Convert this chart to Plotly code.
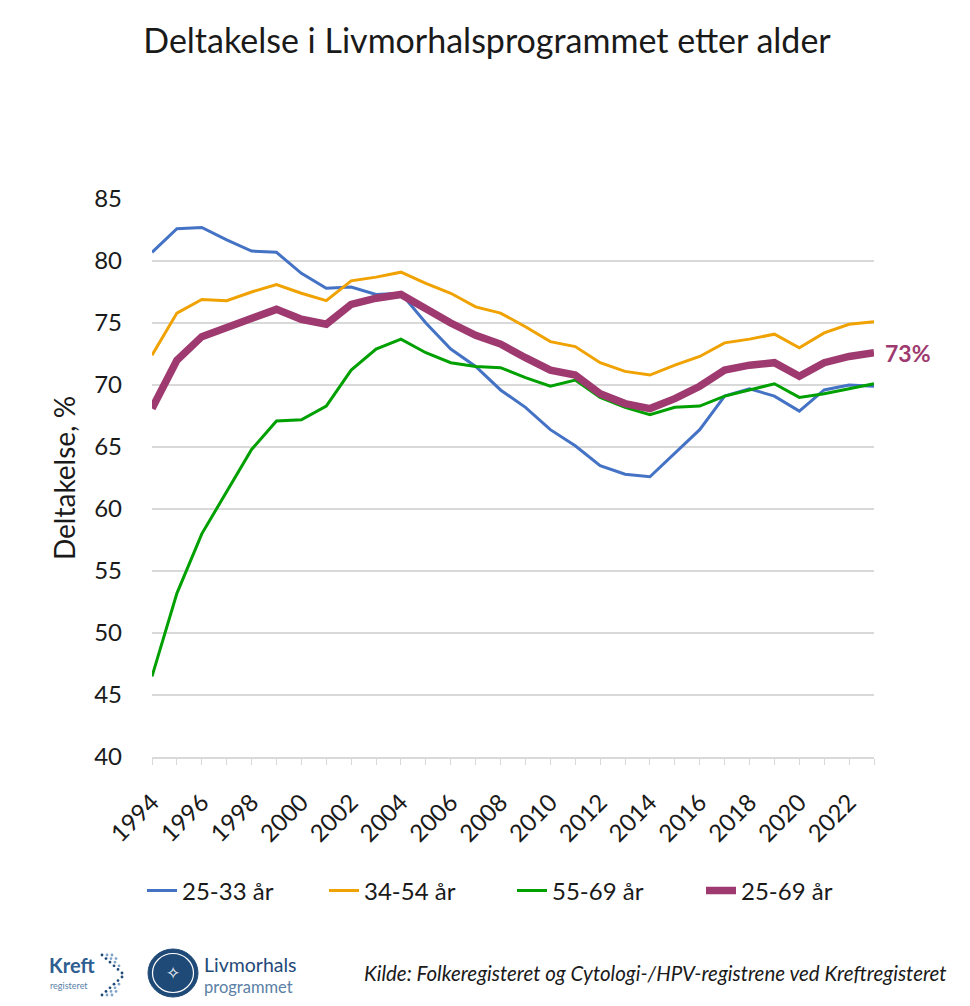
import plotly.graph_objects as go

years = list(range(1994, 2024))
series_names = ["25-33 år", "34-54 år", "55-69 år", "25-69 år"]
g25_33 = [80.7, 82.6, 82.7, 81.7, 80.8, 80.7, 79.0, 77.8, 77.9, 77.3, 77.4, 75.0, 72.9, 71.5, 69.6,
          68.2, 66.4, 65.1, 63.5, 62.8, 62.6, 64.5, 66.4, 69.1, 69.7, 69.1, 67.9, 69.6, 70.0, 69.9]
g34_54 = [72.4, 75.8, 76.9, 76.8, 77.5, 78.1, 77.4, 76.8, 78.4, 78.7, 79.1, 78.2, 77.4, 76.3, 75.8,
          74.7, 73.5, 73.1, 71.8, 71.1, 70.8, 71.6, 72.3, 73.4, 73.7, 74.1, 73.0, 74.2, 74.9, 75.1]
g55_69 = [46.5, 53.2, 58.0, 61.4, 64.8, 67.1, 67.2, 68.3, 71.2, 72.9, 73.7, 72.6, 71.8, 71.5, 71.4,
          70.6, 69.9, 70.4, 69.0, 68.2, 67.6, 68.2, 68.3, 69.1, 69.6, 70.1, 69.0, 69.3, 69.7, 70.1]
g25_69 = [68.1, 72.0, 73.9, 74.6, 75.4, 76.1, 75.3, 74.9, 76.5, 77.0, 77.3, 76.1, 75.0, 74.0, 73.3,
          72.2, 71.2, 70.8, 69.3, 68.5, 68.1, 68.9, 69.9, 71.2, 71.6, 71.8, 70.7, 71.8, 72.3, 72.6]
y_ticks = [40, 45, 50, 55, 60, 65, 70, 75, 80, 85]
x_ticks = list(range(1994, 2023, 2))

colors = ["#4472C4", "#F0A202", "#00A000", "#9E3A6F"]
widths = [3, 3, 3, 7.5]
FONT = "Lato"
TXT = "#1a1a1a"

# page offset (body margin) so that screenshot pixel coords can be used
OFF = 8
W, H = 970 - 2 * OFF, 1006 - 2 * OFF
L = 152 - OFF
T = 199 - OFF
R = W - (874 - OFF)
B = H - (757 - OFF)
pw, ph = W - L - R, H - T - B


def px_to_paper(px, py):
    return (px - OFF - L) / pw, (H - B - (py - OFF)) / ph


legend_ids = ["legend", "legend2", "legend3", "legend4"]
legend_text_x = [183, 365, 553, 742]

fig = go.Figure()
for name, vals, c, w, lid in zip(series_names, [g25_33, g34_54, g55_69, g25_69], colors, widths, legend_ids):
    fig.add_trace(go.Scatter(x=years, y=vals, name=name, mode="lines", legend=lid,
                             line=dict(color=c, width=w), hoverinfo="x+y+name"))

legend_layout = {}
for lid, tx in zip(legend_ids, legend_text_x):
    lx, ly = px_to_paper(tx - 41, 891)
    legend_layout[lid] = dict(orientation="h", x=lx, xanchor="left", y=ly, yanchor="middle",
                              font=dict(family=FONT, size=24, color=TXT),
                              bgcolor="rgba(0,0,0,0)", itemsizing="trace")

fig.update_layout(
    width=W, height=H,
    margin=dict(l=L, r=R, t=T, b=B),
    paper_bgcolor="white", plot_bgcolor="white",
    font=dict(family=FONT, color=TXT),
    title=dict(text="Deltakelse i Livmorhalsprogrammet etter alder",
               x=(487 - OFF) / W, xref="container", xanchor="center",
               y=1 - (41 - OFF) / H, yref="container", yanchor="middle",
               font=dict(family=FONT, size=34, color=TXT)),
    showlegend=True,
    xaxis=dict(range=[years[0], years[-1]], tickmode="array", tickvals=x_ticks,
               ticktext=[str(v) for v in x_ticks], tickangle=-45,
               tickfont=dict(family=FONT, size=24, color=TXT),
               showgrid=False, zeroline=False, ticklabelstandoff=14,
               showline=True, linecolor="#D9D9D9", linewidth=1.5,
               ticks="outside", ticklen=6, tickcolor="#D9D9D9", tickwidth=1.2,
               minor=dict(tickmode="linear", tick0=years[0], dtick=1, ticks="outside",
                          ticklen=6, tickcolor="#D9D9D9", tickwidth=1.2, showgrid=False)),
    yaxis=dict(range=[y_ticks[0], y_ticks[-1]], tickmode="array", tickvals=y_ticks,
               tickfont=dict(family=FONT, size=24, color=TXT),
               showgrid=True, gridcolor="#D9D9D9", gridwidth=1.5,
               zeroline=False, showline=False, ticks="", ticklabelstandoff=29,
               title=dict(text="Deltakelse, %", font=dict(family=FONT, size=28, color=TXT),
                          standoff=10)),
    **legend_layout,
)

# end label
fig.add_annotation(x=years[-1], y=g25_69[-1], xref="x", yref="y",
                   text=f"<b>{round(g25_69[-1])}%</b>", showarrow=False,
                   xanchor="left", yanchor="middle", xshift=9,
                   font=dict(family=FONT, size=23, color=colors[3]))

# source
sx, sy = px_to_paper(949, 973)
fig.add_annotation(x=sx, y=sy, xref="paper", yref="paper", xanchor="right", yanchor="middle",
                   text="<i>Kilde: Folkeregisteret og Cytologi-/HPV-registrene ved Kreftregisteret</i>",
                   showarrow=False, font=dict(family=FONT, size=20.5, color=TXT))

# Logos (decorative)
NAVY = "#1F4A78"
LIGHT = "#5B7FA6"


def logo_text(px, py, text, size, color, bold=False):
    x, y = px_to_paper(px, py)
    fig.add_annotation(x=x, y=y, xref="paper", yref="paper", xanchor="left", yanchor="middle",
                       text=f"<b>{text}</b>" if bold else text, showarrow=False, borderpad=0,
                       font=dict(family=FONT, size=size, color=color))


logo_text(48, 965, "Kreft", 20, "#2F5E90", bold=True)
logo_text(49, 985, "registeret", 9, LIGHT)
logo_text(203, 964, "Livmorhals", 19.5, NAVY)
logo_text(203, 987, "programmet", 16.5, LIGHT)

# dotted chevron
for i in range(6):
    for j in range(3 - (i // 2)):
        cxp = 102 + i * 4 + j * 5
        for sgn in (-1, 1):
            cyp = 975 + sgn * (20 - i * 3.6)
            ax0, ay0 = px_to_paper(cxp - 1.4, cyp - 1.4)
            ax1, ay1 = px_to_paper(cxp + 1.4, cyp + 1.4)
            fig.add_shape(type="circle", xref="paper", yref="paper",
                          x0=ax0, x1=ax1, y0=ay1, y1=ay0,
                          fillcolor=NAVY if j == 0 else "#7FA3C8", line=dict(width=0))
cx0, cy0 = px_to_paper(148, 949)
cx1, cy1 = px_to_paper(198, 997)
fig.add_shape(type="circle", xref="paper", yref="paper", x0=cx0, x1=cx1, y0=cy1, y1=cy0,
              fillcolor=NAVY, line=dict(color=NAVY, width=1))
ix0, iy0 = px_to_paper(152.5, 953.5)
ix1, iy1 = px_to_paper(193.5, 992.5)
fig.add_shape(type="circle", xref="paper", yref="paper", x0=ix0, x1=ix1, y0=iy1, y1=iy0,
              fillcolor="rgba(0,0,0,0)", line=dict(color="white", width=1.2))
dx, dy = px_to_paper(173, 973)
fig.add_annotation(x=dx, y=dy, xref="paper", yref="paper", xanchor="center", yanchor="middle",
                   text="✧", showarrow=False, font=dict(family="DejaVu Sans", size=17, color="white"))

fig.write_html("out.html")
